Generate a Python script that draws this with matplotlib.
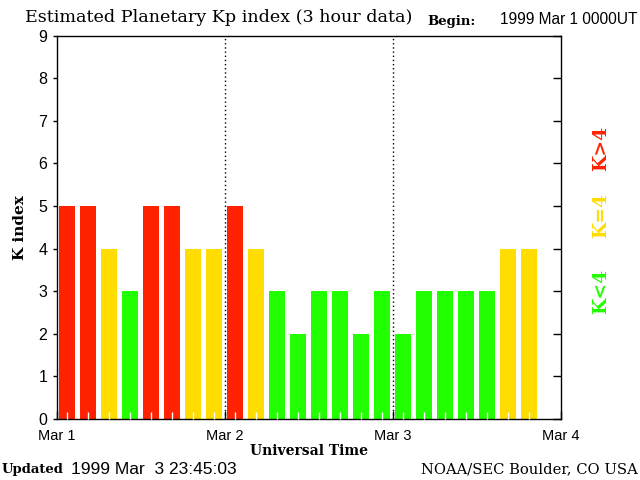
import numpy as np
import matplotlib
matplotlib.use("Agg")
import matplotlib.pyplot as plt

# Kp values per 3 hour slot starting 1999 Mar 1 00 UT
kp_values = [5, 5, 4, 3, 5, 5, 4, 4,
             5, 4, 3, 2, 3, 3, 2, 3,
             2, 3, 3, 3, 3, 4, 4]
day_labels = ["Mar 1", "Mar 2", "Mar 3", "Mar 4"]

RED = "#ff2200"
YELLOW = "#ffdd00"
GREEN = "#22ff00"


def kp_color(k):
    if k > 4:
        return RED
    if k == 4:
        return YELLOW
    return GREEN


fig = plt.figure(figsize=(6.4, 4.8), dpi=100)
ax = fig.add_axes([56.5 / 640, 1 - 419 / 480, 504 / 640, 383.5 / 480])

slot = 1.0 / 8  # 3 hours in days
centers = (np.arange(len(kp_values)) + 0.5) * slot
ax.bar(centers, kp_values, width=slot * 0.72, linewidth=0,
       color=[kp_color(k) for k in kp_values], zorder=2)

ax.set_xlim(0, 3)
ax.set_ylim(0, 9)

# day separators
for d in (1, 2):
    ax.axvline(d, color="black", lw=1, ls=(0, (1, 2)), zorder=1)

ax.set_xticks(range(4))
ax.set_xticklabels(day_labels, fontfamily="Liberation Sans", fontsize=10.5)
ax.tick_params(axis="x", direction="in", length=6, width=1, pad=7)
ax.set_xticks(centers, minor=True)
ax.tick_params(axis="x", which="minor", direction="in", length=5,
               width=1, color="white")

ax.set_yticks(range(10))
ax.set_yticklabels([str(i) for i in range(10)],
                   fontfamily="Liberation Sans", fontsize=11.5)
ax.tick_params(axis="y", direction="out", length=3, width=1, right=True)
for t in ax.yaxis.get_major_ticks():
    t.tick2line.set_marker(matplotlib.markers.TICKLEFT)
    t.tick2line.set_markersize(6)

for s in ax.spines.values():
    s.set_linewidth(1)
ax.set_axisbelow(False)

ax.set_xlabel("Universal Time", fontfamily="DejaVu Serif",
              fontweight="bold", fontsize=10, labelpad=1)
ax.set_ylabel("K index", fontfamily="DejaVu Serif",
              fontweight="bold", fontsize=11, labelpad=8)

fig.text(25 / 640, 1 - 18 / 480, "Estimated Planetary Kp index (3 hour data)",
         fontfamily="DejaVu Serif", fontsize=12.6, va="center", ha="left")
fig.text(427 / 640, 1 - 21 / 480, "Begin:", fontfamily="DejaVu Serif",
         fontweight="bold", fontsize=9.5, va="center", ha="left")
fig.text(638 / 640, 1 - 20 / 480, "1999 Mar 1 0000UT",
         fontfamily="Liberation Sans", fontsize=11.2, va="center", ha="right")

fig.text(2 / 640, 1 - 469 / 480, "Updated", fontfamily="DejaVu Serif",
         fontweight="bold", fontsize=9.5, va="center", ha="left")
fig.text(71 / 640, 1 - 469 / 480, "1999 Mar  3 23:45:03",
         fontfamily="Liberation Sans", fontsize=12.5, va="center", ha="left")
fig.text(638 / 640, 1 - 469 / 480, "NOAA/SEC Boulder, CO USA",
         fontfamily="DejaVu Serif", fontsize=10.6, va="center", ha="right")

for label, col, ypix in (("K>4", RED, 148), ("K=4", YELLOW, 215),
                         ("K<4", GREEN, 291)):
    fig.text(601 / 640, 1 - ypix / 480, label, color=col, rotation=90,
             fontfamily="DejaVu Serif", fontweight="bold", fontsize=13.5,
             va="center", ha="center")

fig.savefig("out.png", dpi=100)
